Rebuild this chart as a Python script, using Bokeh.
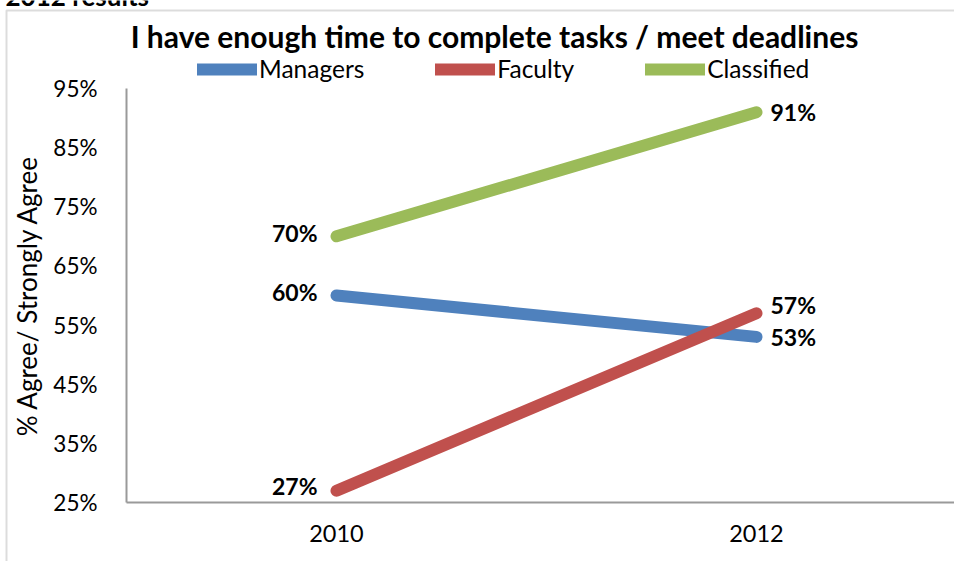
from bokeh.plotting import figure
from bokeh.models import (ColumnDataSource, FixedTicker, Legend, LegendItem, Label,
                          LabelSet, BoxAnnotation, Range1d)
from bokeh.core.properties import value
from bokeh.embed import file_html
from bokeh.resources import INLINE

# ---- data ----
categories = ["2010", "2012"]
managers = [60, 53]
faculty = [27, 57]
classified = [70, 91]
series_names = ["Managers", "Faculty", "Classified"]
y_ticks = [25, 35, 45, 55, 65, 75, 85, 95]
y_tick_labels = ["25%", "35%", "45%", "55%", "65%", "75%", "85%", "95%"]
title_text = "I have enough time to complete tasks / meet deadlines"
y_axis_title = "% Agree/ Strongly Agree"
header_text = "2012 results"

colors = ["#4F81BD", "#C0504D", "#9BBB59"]
FONT = "Lato"

xpos = [i + 0.5 for i in range(len(categories))]

# layout geometry (pixels): plot area left=126, bottom=502, top(95%)=88
W, H = 954, 561
PX_X = 420.0          # px per category
PX_Y = 414.0 / 70.0   # px per percentage point
x0 = -126.0 / PX_X
y0 = 25 - (H - 502) / PX_Y

p = figure(width=W, height=H, output_backend="svg", toolbar_location=None,
           x_range=Range1d(x0, x0 + W / PX_X), y_range=Range1d(y0, y0 + H / PX_Y),
           min_border=0)
p.outline_line_color = None
p.xgrid.visible = False
p.ygrid.visible = False
p.background_fill_color = "white"
p.border_fill_color = "white"

items = []
for name, vals, c in zip(series_names, [managers, faculty, classified], colors):
    src = ColumnDataSource(dict(x=xpos, y=vals))
    r = p.line("x", "y", source=src, line_color=c, line_width=12, line_cap="round")
    items.append(LegendItem(label=name, renderers=[r]))

# data labels (label nudges in pixels: [left, right])
nudges = [[4, 0], [5, 8], [3, 0]]
for vals, yoffs in zip([managers, faculty, classified], nudges):
    left = ColumnDataSource(dict(x=[xpos[0]], y=[vals[0]], lab=[f"{vals[0]}%"]))
    right = ColumnDataSource(dict(x=[xpos[1]], y=[vals[1]], lab=[f"{vals[1]}%"]))
    p.add_layout(LabelSet(x="x", y="y", text="lab", source=left, x_offset=-19,
                          y_offset=yoffs[0], text_align="right", text_baseline="middle",
                          text_font=value(FONT), text_font_style="bold",
                          text_font_size="23px", text_color="black"))
    p.add_layout(LabelSet(x="x", y="y", text="lab", source=right, x_offset=14,
                          y_offset=yoffs[1], text_align="left", text_baseline="middle",
                          text_font=value(FONT), text_font_style="bold",
                          text_font_size="23px", text_color="black"))

# axes (fixed inside the full-canvas frame)
p.xaxis.fixed_location = 25
p.yaxis.fixed_location = 0
p.xaxis.bounds = (0, len(categories))
p.yaxis.bounds = (y_ticks[0], y_ticks[-1])
p.xaxis.ticker = FixedTicker(ticks=xpos)
p.xaxis.major_label_overrides = {x: c for x, c in zip(xpos, categories)}
p.yaxis.ticker = FixedTicker(ticks=y_ticks)
p.yaxis.major_label_overrides = {t: l for t, l in zip(y_ticks, y_tick_labels)}
for ax in (p.xaxis, p.yaxis):
    ax.axis_line_color = "#9a9a9a"
    ax.axis_line_width = 2
    ax.major_tick_line_color = None
    ax.minor_tick_line_color = None
    ax.major_label_text_font = FONT
    ax.major_label_text_color = "black"
p.xaxis.major_label_text_font_size = "23.5px"
p.yaxis.major_label_text_font_size = "22.5px"
p.xaxis.major_label_standoff = 16
p.yaxis.major_label_standoff = 23
p.yaxis.axis_label = y_axis_title
p.yaxis.axis_label_text_font = FONT
p.yaxis.axis_label_text_font_size = "26px"
p.yaxis.axis_label_text_font_style = "normal"
p.yaxis.axis_label_text_color = "black"
p.yaxis.axis_label_standoff = 7

legend = Legend(items=items, orientation="horizontal", location=(197, 478),
                glyph_width=60, glyph_height=20, label_standoff=2, spacing=71,
                padding=0, margin=0, border_line_color=None, background_fill_alpha=0,
                label_text_font=FONT, label_text_font_size="24.5px",
                label_text_color="black")
p.add_layout(legend, "center")

# outer chart border
p.add_layout(BoxAnnotation(left=6, right=2000, top=10, bottom=2000,
                           left_units="canvas", right_units="canvas",
                           top_units="canvas", bottom_units="canvas",
                           fill_alpha=0, line_color="#8c8c8c", line_width=2))

p.add_layout(Label(x=494, y=35, x_units="canvas", y_units="canvas", text=title_text,
                   text_align="center", text_baseline="middle", text_font=FONT,
                   text_font_style="bold", text_font_size="30px", text_color="black"))
p.add_layout(Label(x=5, y=-5, x_units="canvas", y_units="canvas", text=header_text,
                   text_align="left", text_baseline="alphabetic", text_font=FONT,
                   text_font_style="bold", text_font_size="26px", text_color="black"))

open("out.html", "w").write(file_html(p, INLINE))
